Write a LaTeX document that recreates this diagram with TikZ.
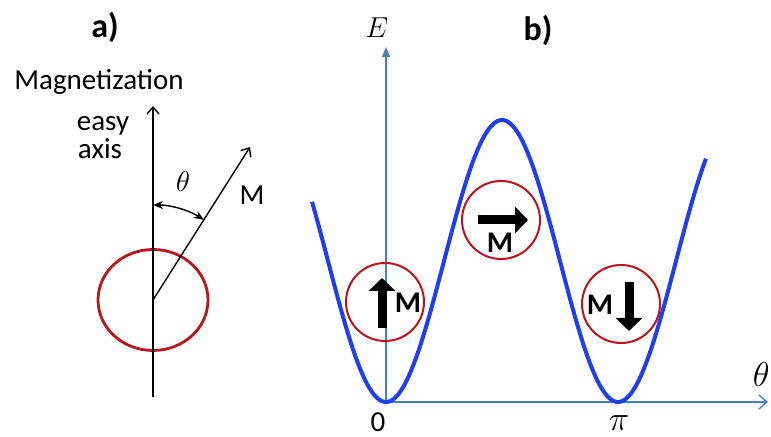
\documentclass[tikz,border=0pt]{standalone}
\usepackage{fontspec}
\setmainfont{Carlito}
\usetikzlibrary{arrows.meta}
\definecolor{spinred}{HTML}{B8161C}
\definecolor{axisblue}{HTML}{4A7EBB}
\definecolor{curveblue}{HTML}{1F3FEE}
\tikzset{
  >=Stealth,
  txt/.style={font=\fontsize{14.5}{17}\selectfont,inner sep=0pt},
  panel/.style={font=\bfseries\fontsize{17}{20}\selectfont,inner sep=0pt},
  mathlbl/.style={font=\fontsize{14}{16}\selectfont,inner sep=0pt},
  biglbl/.style={font=\fontsize{16}{18}\selectfont,inner sep=0pt},
  axisline/.style={line width=0.7pt,draw=black},
  plotaxis/.style={line width=0.7pt,draw=axisblue},
  barb/.style={-{Straight Barb[length=3.5pt,width=6pt]}},
  well/.style={circle,draw=spinred,line width=1pt,minimum size=39pt,inner sep=0pt},
  spin/.style={line width=4.5pt,-{Triangle[length=6.5pt,width=13pt]}},
  spinlbl/.style={font=\bfseries\fontsize{15}{17}\selectfont,inner sep=0pt},
}

\begin{document}
\begin{tikzpicture}[x=0.5pt,y=-0.5pt]
  \useasboundingbox (0,0) rectangle (771,437);

  % a) particle and its easy axis
  \node[panel,anchor=base] (pa)   at (105,38)  {a)};
  \node[txt,anchor=base]   (mag)  at (99,90)   {Magnetization};
  \node[txt,anchor=base]   (easy) at (103,131) {easy};
  \node[txt,anchor=base]   (ax)   at (100,159) {axis};

  \coordinate (c)     at (153,300);
  \coordinate (axbot) at (153,397);
  \coordinate (axtop) at (153,106);
  \coordinate (mtip)  at (250,147);

  \draw[spinred,line width=1.4pt] (c) ellipse[x radius=55,y radius=50.5];
  \draw[axisline,barb] (axbot) -- (axtop);
  \draw[axisline,barb] (c) -- (mtip);
  \draw[line width=0.7pt,{Stealth[length=5pt,width=4pt]}-{Stealth[length=5pt,width=4pt]}]
    ([shift={(-57.6:95)}]c) arc[start angle=-57.6,end angle=-90,radius=95];

  \node[txt,anchor=base]     (mlbl) at (252,205) {M};
  \node[mathlbl,anchor=base] (th)   at (183,192) {$\theta$};

  % b) anisotropy energy
  \node[panel,anchor=base] (pb) at (538,41) {b)};
  \coordinate (O)    at (386,402);
  \coordinate (Etop) at (386,47);
  \coordinate (Tend) at (768,402);

  \draw[plotaxis,-{Triangle[length=5pt,width=4pt]}] (O) -- (Etop);
  \draw[plotaxis,-{Straight Barb[length=4pt,width=7pt]}] (O) -- (Tend);

  \node[mathlbl,anchor=base] (E)    at (377,38)  {$E$};
  \node[txt,anchor=base]     (zero) at (378,432) {0};
  \node[biglbl,anchor=base]      (pi)  at (619,431) {$\pi$};
  \node[biglbl,anchor=base east] (thx) at (770,387) {$\theta$};

  \draw[curveblue,line width=2pt,line join=round]
    plot[domain=312:706,samples=200,smooth] (\x,{402-282*pow(sin((\x-386)/232*180),2)});

  % the three states
  \node[well] (up)   at (385,302) {};
  \node[well] (side) at (501,220) {};
  \node[well] (down) at (621,304) {};

  \draw[spin] ([shift={(-3,26)}]up.center)  -- ([shift={(-3,-24)}]up.center);
  \draw[spin] ([shift={(-23,0)}]side.center) -- ([shift={(27,0)}]side.center);
  \draw[spin] ([shift={(8,-22)}]down.center) -- ([shift={(8,27)}]down.center);

  \node[spinlbl,anchor=base] at ([shift={(23,11)}]up.center)   {M};
  \node[spinlbl,anchor=base] at ([shift={(-1,33)}]side.center) {M};
  \node[spinlbl,anchor=base] at ([shift={(-21,11)}]down.center) {M};
\end{tikzpicture}
\end{document}
